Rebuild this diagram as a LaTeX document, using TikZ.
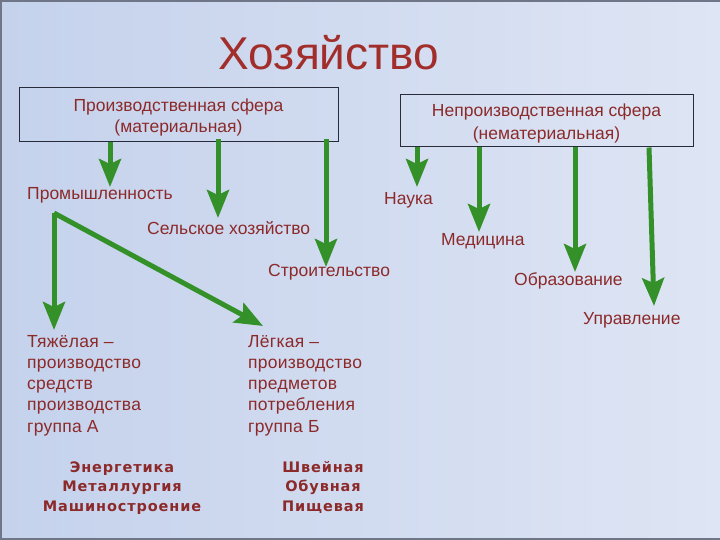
\documentclass[tikz,border=0pt]{standalone}
\usepackage{fontspec}
\setmainfont{Liberation Sans}
\newfontfamily\spaced[LetterSpace=1.5]{Liberation Sans}
\newfontfamily\boldsp[LetterSpace=6]{DejaVu Sans}
\usetikzlibrary{arrows.meta}
\definecolor{txtred}{RGB}{140,42,42}
\definecolor{titlered}{RGB}{162,46,44}
\definecolor{arrgreen}{RGB}{52,145,42}
\definecolor{bgl}{RGB}{197,210,236}
\definecolor{bgr}{RGB}{222,229,244}
\definecolor{framegray}{RGB}{110,118,135}
\definecolor{boxline}{RGB}{40,44,58}
\begin{document}
\begin{tikzpicture}[x=1pt,y=-1pt,
  lbl/.style={text=txtred, font=\fontsize{17.5}{21}\selectfont, inner sep=0pt, anchor=base west},
  multi/.style={text=txtred, font=\spaced\fontsize{17.5}{21.25}\selectfont, inner sep=0pt, align=left, anchor=base west},
  bold/.style={text=txtred, font=\boldsp\bfseries\fontsize{14.5}{19.5}\selectfont, inner sep=0pt, align=center, anchor=base},
  sphere/.style={draw=boxline, line width=1pt, inner sep=0pt},
  spheretext/.style={text=txtred, align=center, inner sep=0pt, anchor=base},
  arr/.style={draw=arrgreen, line width=5pt, -{Stealth[width=22pt,length=28pt,inset=5pt]}}]
\useasboundingbox (0,0) rectangle (720,540);
\shade[left color=bgl, right color=bgr] (0,0) rectangle (720,540);
\draw[framegray, line width=2pt] (720,1) -- (1,1) -- (1,539) -- (720,539);

\node[text=titlered, font=\fontsize{46}{50}\selectfont, inner sep=0pt, anchor=base] (title) at (329,70) {Хозяйство};

\node[sphere, minimum width=319pt, minimum height=54pt] (b1) at (178.5,115) {};
\node[spheretext, font=\fontsize{17.5}{21}\selectfont] (b1t) at (b1.center |- 0,133) {Производственная сфера\\(материальная)};
\node[sphere, minimum width=293pt, minimum height=52pt] (b2) at (546.5,121) {};
\node[spheretext, font=\fontsize{17.5}{22.5}\selectfont] (b2t) at (b2.center |- 0,139.5) {Непроизводственная сфера\\(нематериальная)};

\node[lbl] (prom) at (27,200) {Промышленность};
\node[lbl] (selh) at (147,234) {Сельское хозяйство};
\node[lbl] (stro) at (268,276) {Строительство};
\node[lbl] (nauka) at (384,205) {Наука};
\node[lbl] (med) at (441,245) {Медицина};
\node[lbl] (obr) at (514,285) {Образование};
\node[lbl] (upr) at (583,324) {Управление};

\node[multi] (tyazh) at (27,432) {Тяжёлая –\\производство\\средств\\производства\\группа А};
\node[multi] (legk) at (248,432) {Лёгкая –\\производство\\предметов\\потребления\\группа Б};

\node[bold] (heavy) at (122,511) {Энергетика\\Металлургия\\Машиностроение};
\node[bold] (light) at (323,511) {Швейная\\Обувная\\Пищевая};

\coordinate (t1) at (110,187);
\coordinate (t2) at (218,218);
\coordinate (t3) at (326,267);
\coordinate (t4) at (417,187);
\coordinate (t5) at (479,232);
\coordinate (t6) at (575,272);
\coordinate (t7) at (654,306);
\coordinate (corner) at (54,213);
\coordinate (t8) at (54,330);
\coordinate (t9) at (263,326);

\draw[arr] (b1.south -| t1) -- (t1);
\draw[arr] ([yshift=3pt]b1.south -| t2) -- (t2);
\draw[arr] ([yshift=3pt]b1.south -| t3) -- (t3);
\draw[arr] (b2.south -| t4) -- (t4);
\draw[arr] (b2.south -| t5) -- (t5);
\draw[arr] (b2.south -| t6) -- (t6);
\draw[arr] (b2.south -| 649,0) -- (t7);
\draw[arr] (corner) -- (t8);
\draw[arr, line join=miter] (t8 |- corner) -- (t9);
\end{tikzpicture}
\end{document}
